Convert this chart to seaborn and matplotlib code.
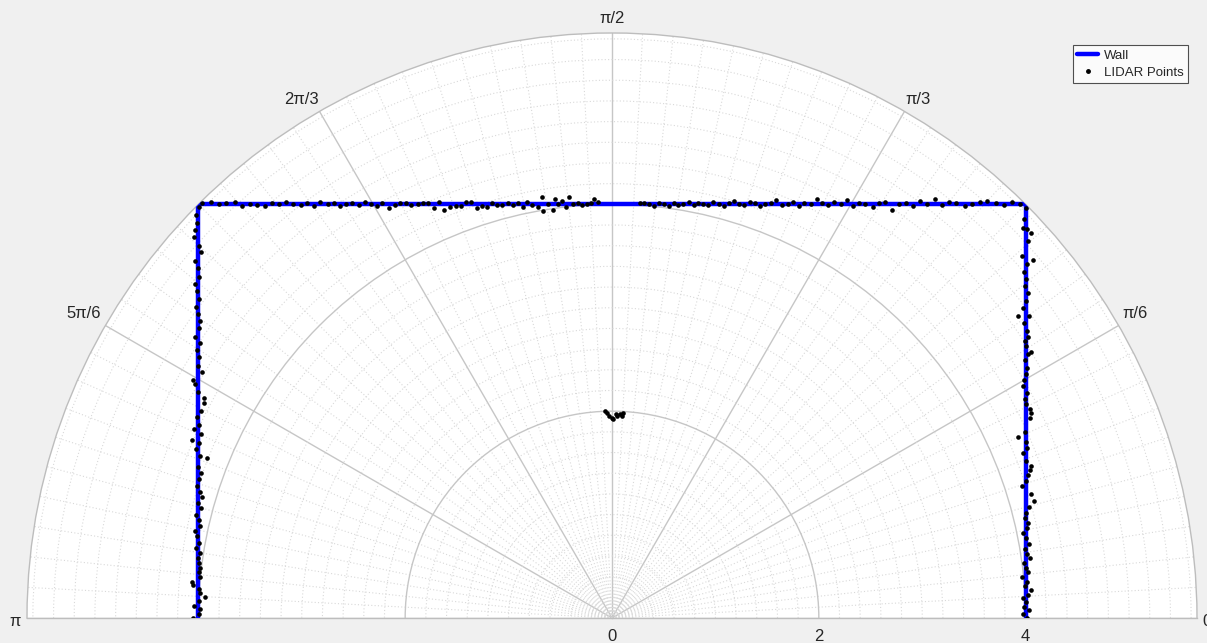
import numpy as np
import matplotlib
matplotlib.use("Agg")
import matplotlib.pyplot as plt
import seaborn as sns
from matplotlib.lines import Line2D

# ---------------- data (Cartesian, metres) ----------------
wall_x = [-4.0, -4.0, 4.0, 4.0]
wall_y = [0.0, 4.0, 4.0, 0.0]

left_pts = [(-4.05, 0.00), (-3.99, 0.04), (-3.98, 0.09), (-4.04, 0.12), (-3.99, 0.16), (-3.94, 0.20),
            (-3.98, 0.24), (-3.99, 0.28), (-4.05, 0.32), (-4.06, 0.35), (-3.98, 0.40), (-3.99, 0.44),
            (-3.98, 0.48), (-3.99, 0.53), (-4.00, 0.58), (-3.98, 0.63), (-4.02, 0.68), (-3.99, 0.73),
            (-4.01, 0.79), (-4.03, 0.84), (-3.98, 0.89), (-3.99, 0.95), (-4.02, 1.00), (-3.97, 1.06),
            (-4.00, 1.11), (-3.96, 1.17), (-3.98, 1.22), (-4.01, 1.28), (-3.99, 1.34), (-3.97, 1.40),
            (-4.00, 1.46), (-3.92, 1.55), (-3.98, 1.57), (-4.02, 1.63), (-4.06, 1.72), (-3.99, 1.69),
            (-3.97, 1.78), (-4.04, 1.83), (-3.99, 1.87), (-4.01, 1.94), (-3.97, 2.00), (-3.95, 2.08),
            (-3.95, 2.13), (-4.00, 2.19), (-4.03, 2.26), (-4.05, 2.30), (-3.96, 2.38), (-4.00, 2.44),
            (-3.99, 2.52), (-4.01, 2.59), (-3.98, 2.66), (-4.03, 2.72), (-3.99, 2.80), (-3.98, 2.87),
            (-4.00, 2.94), (-4.02, 3.01), (-3.99, 3.08), (-4.01, 3.16), (-4.03, 3.23), (-3.99, 3.30),
            (-4.00, 3.38), (-4.03, 3.45), (-3.97, 3.54), (-3.99, 3.60), (-4.04, 3.68), (-4.03, 3.75),
            (-4.01, 3.82), (-4.02, 3.90), (-3.99, 3.97)]

top_left_pts = [(-3.96, 4.01), (-3.88, 4.02), (-3.80, 4.00), (-3.73, 4.01), (-3.65, 4.02), (-3.58, 3.98),
                (-3.50, 4.00), (-3.43, 3.99), (-3.36, 3.98), (-3.29, 4.01), (-3.22, 4.00), (-3.15, 4.02),
                (-3.08, 4.00), (-3.01, 3.99), (-2.95, 4.01), (-2.88, 3.98), (-2.82, 4.02), (-2.75, 4.00),
                (-2.69, 4.01), (-2.63, 3.98), (-2.57, 4.00), (-2.51, 4.01), (-2.45, 3.99), (-2.39, 4.02),
                (-2.33, 4.00), (-2.27, 3.98), (-2.22, 4.01), (-2.16, 3.96), (-2.10, 3.99), (-2.05, 4.01),
                (-1.99, 4.01), (-1.94, 3.99), (-1.88, 4.00), (-1.83, 4.01), (-1.78, 4.01), (-1.72, 3.96),
                (-1.67, 4.02), (-1.62, 3.95), (-1.57, 3.97), (-1.51, 3.98), (-1.46, 3.98), (-1.41, 4.02),
                (-1.36, 4.02), (-1.31, 3.96), (-1.26, 3.98), (-1.21, 3.97), (-1.16, 4.01), (-1.11, 3.99),
                (-1.06, 3.99), (-1.01, 4.01), (-0.96, 3.99), (-0.91, 4.01), (-0.86, 3.97), (-0.82, 4.02),
                (-0.77, 3.99), (-0.72, 3.97), (-0.68, 4.07), (-0.67, 3.94), (-0.62, 4.00), (-0.57, 3.95),
                (-0.55, 4.05), (-0.52, 4.00), (-0.48, 4.03), (-0.44, 3.97), (-0.42, 4.07), (-0.38, 4.00),
                (-0.33, 4.01), (-0.29, 3.99), (-0.24, 4.00), (-0.20, 4.01), (-0.17, 4.05), (-0.14, 4.02)]

top_right_pts = [(0.27, 4.01), (0.31, 4.01), (0.36, 4.00), (0.41, 3.98), (0.45, 4.01), (0.50, 4.00),
                 (0.55, 3.98), (0.60, 4.01), (0.64, 3.99), (0.69, 4.00), (0.74, 4.02), (0.79, 3.99),
                 (0.83, 4.01), (0.88, 4.00), (0.93, 3.99), (0.98, 4.02), (1.03, 4.00), (1.08, 3.98),
                 (1.13, 4.01), (1.18, 4.03), (1.23, 4.00), (1.28, 3.99), (1.33, 4.02), (1.38, 4.01),
                 (1.43, 3.98), (1.48, 4.00), (1.54, 4.01), (1.59, 4.04), (1.64, 3.99), (1.70, 4.00),
                 (1.75, 4.02), (1.81, 3.98), (1.86, 4.01), (1.92, 4.00), (1.98, 4.05), (2.03, 4.01),
                 (2.09, 3.99), (2.15, 4.02), (2.21, 4.00), (2.27, 4.04), (2.33, 3.98), (2.39, 4.01),
                 (2.45, 4.00), (2.52, 3.97), (2.58, 4.01), (2.64, 4.02), (2.71, 3.95), (2.78, 4.00),
                 (2.84, 4.01), (2.91, 3.98), (2.98, 4.03), (3.05, 4.00), (3.12, 4.05), (3.19, 3.99),
                 (3.26, 4.02), (3.33, 4.01), (3.41, 3.98), (3.48, 4.00), (3.56, 4.02), (3.63, 4.03),
                 (3.71, 4.01), (3.79, 3.99), (3.87, 4.02), (3.95, 4.00)]

right_pts = [(4.01, 0.00), (3.97, 0.04), (4.03, 0.08), (3.98, 0.11), (4.00, 0.15), (3.97, 0.19),
             (4.02, 0.22), (4.05, 0.27), (3.99, 0.31), (4.01, 0.35), (3.96, 0.40), (4.02, 0.44),
             (4.00, 0.48), (3.98, 0.53), (4.04, 0.58), (4.01, 0.62), (3.99, 0.67), (4.03, 0.72),
             (4.00, 0.77), (3.97, 0.82), (4.01, 0.87), (4.02, 0.92), (3.99, 0.97), (4.00, 1.02),
             (4.03, 1.07), (4.08, 1.13), (4.05, 1.20), (3.96, 1.28), (4.00, 1.32), (4.02, 1.38),
             (4.04, 1.43), (4.05, 1.47), (4.00, 1.52), (3.97, 1.60), (4.01, 1.64), (3.93, 1.75),
             (4.00, 1.70), (3.99, 1.80), (4.04, 1.93), (4.05, 1.98), (4.04, 2.02), (4.00, 2.07),
             (3.99, 2.12), (4.01, 2.18), (3.97, 2.24), (3.98, 2.30), (4.00, 2.36), (4.01, 2.42),
             (3.99, 2.49), (4.02, 2.55), (4.05, 2.57), (4.00, 2.63), (3.99, 2.68), (4.02, 2.72),
             (4.01, 2.78), (3.98, 2.85), (4.03, 2.92), (3.93, 2.92), (3.97, 3.00), (4.00, 3.07),
             (4.02, 3.14), (3.99, 3.21), (4.00, 3.28), (3.98, 3.35), (4.01, 3.42), (3.96, 3.50),
             (4.07, 3.46), (4.02, 3.65), (4.05, 3.72), (4.01, 3.76), (3.97, 3.77), (3.98, 3.86),
             (4.00, 3.96)]

object_pts = [(-0.068, 2.003), (-0.045, 1.978), (-0.026, 1.958), (-0.003, 1.935), (0.013, 1.920),
              (0.039, 1.968), (0.051, 1.952), (0.077, 1.971), (0.097, 1.958), (0.109, 1.978)]

theta_tick_labels = ['0', 'π/6', 'π/3', 'π/2', '2π/3', '5π/6', 'π']
theta_tick_deg = [0, 30, 60, 90, 120, 150, 180]
r_ticks = [0, 2, 4]
r_tick_labels = ['0', '2', '4']

# ---------------- conversion to polar ----------------
wx, wy = np.array(wall_x), np.array(wall_y)
wall_theta = np.arctan2(wy, wx)
wall_r = np.hypot(wx, wy)

pts = np.array(left_pts + top_left_pts + object_pts + top_right_pts + right_pts)
pt_theta = np.arctan2(pts[:, 1], pts[:, 0])
pt_r = np.hypot(pts[:, 0], pts[:, 1])
r_max = wall_r.max()

# ---------------- figure ----------------
sns.set_theme(style="white")
plt.rcParams['font.family'] = ['Liberation Sans', 'DejaVu Sans']

W, H = 1207, 643
fig = plt.figure(figsize=(W / 100, H / 100), dpi=100, facecolor='#f0f0f0')
cx, cy, R = 612, 618, 585
# half-disk sits in the middle half of a square axes box
side = 2 * R
bottom_px = cy + 0.25 * side
ax = fig.add_axes([(cx - R) / W, (H - bottom_px) / H, side / W, side / H], projection='polar')
ax.set_facecolor('white')
ax.set_thetamin(0)
ax.set_thetamax(180)
ax.set_rlim(0, r_max)

sns.lineplot(x=wall_theta, y=wall_r, sort=False, estimator=None, ax=ax,
             color='#0000ff', linewidth=3.2, zorder=3)
sns.scatterplot(x=pt_theta, y=pt_r, ax=ax, color='black', s=11, linewidth=0,
                legend=False, zorder=4)
ax.set_xlabel('')
ax.set_ylabel('')

# grids
ax.set_xticks(np.deg2rad(theta_tick_deg))
ax.set_xticklabels([])
ax.set_xticks(np.deg2rad(np.arange(0, 181, 3)), minor=True)
ax.set_yticks(r_ticks)
ax.set_yticklabels([])
ax.set_yticks(np.arange(0, r_max, 0.2), minor=True)
ax.set_rlim(0, r_max)
ax.grid(which='major', color='#c6c6c6', linestyle='-', linewidth=1.0)
ax.grid(which='minor', color='#d9d9d9', linestyle=(0, (1, 2)), linewidth=0.8)
ax.tick_params(axis='both', which='both', length=0)
for sp in ax.spines.values():
    sp.set_color('#bdbdbd')
    sp.set_linewidth(1.0)

# angular labels, placed just outside the outer arc (MATLAB style)
theta_label_style = {
    0: ('left', 'center', (5, -4)),
    30: ('left', 'bottom', (4, 5)),
    60: ('left', 'bottom', (1, 4)),
    90: ('center', 'bottom', (0, 7)),
    120: ('right', 'bottom', (-1, 4)),
    150: ('right', 'bottom', (-4, 5)),
    180: ('right', 'center', (-6, -4)),
}
for deg, lab in zip(theta_tick_deg, theta_tick_labels):
    ha, va, off = theta_label_style[deg]
    ax.annotate(lab, xy=(np.deg2rad(deg), r_max), xycoords='data', xytext=off,
                textcoords='offset pixels', ha=ha, va=va, fontsize=12, color='#262626',
                annotation_clip=False)

for rv, lab in zip(r_ticks, r_tick_labels):
    ax.annotate(lab, xy=(0, rv), xycoords='data', xytext=(0, -8), textcoords='offset points',
                ha='center', va='top', fontsize=12, color='#262626', annotation_clip=False)

handles = [Line2D([], [], color='#0000ff', lw=3.2),
           Line2D([], [], color='black', marker='.', ls='none', markersize=5)]
leg = fig.legend(handles, ['Wall', 'LIDAR Points'], loc='upper right',
                 bbox_to_anchor=(1188 / W, 1 - 45 / H), frameon=True, fancybox=False,
                 fontsize=9.5, handlelength=1.6, handletextpad=0.4, borderpad=0.35,
                 labelspacing=0.35, borderaxespad=0)
leg.get_frame().set_edgecolor('#262626')
leg.get_frame().set_linewidth(0.8)
leg.get_frame().set_facecolor('white')

fig.savefig('out.png', dpi=100, facecolor=fig.get_facecolor())
